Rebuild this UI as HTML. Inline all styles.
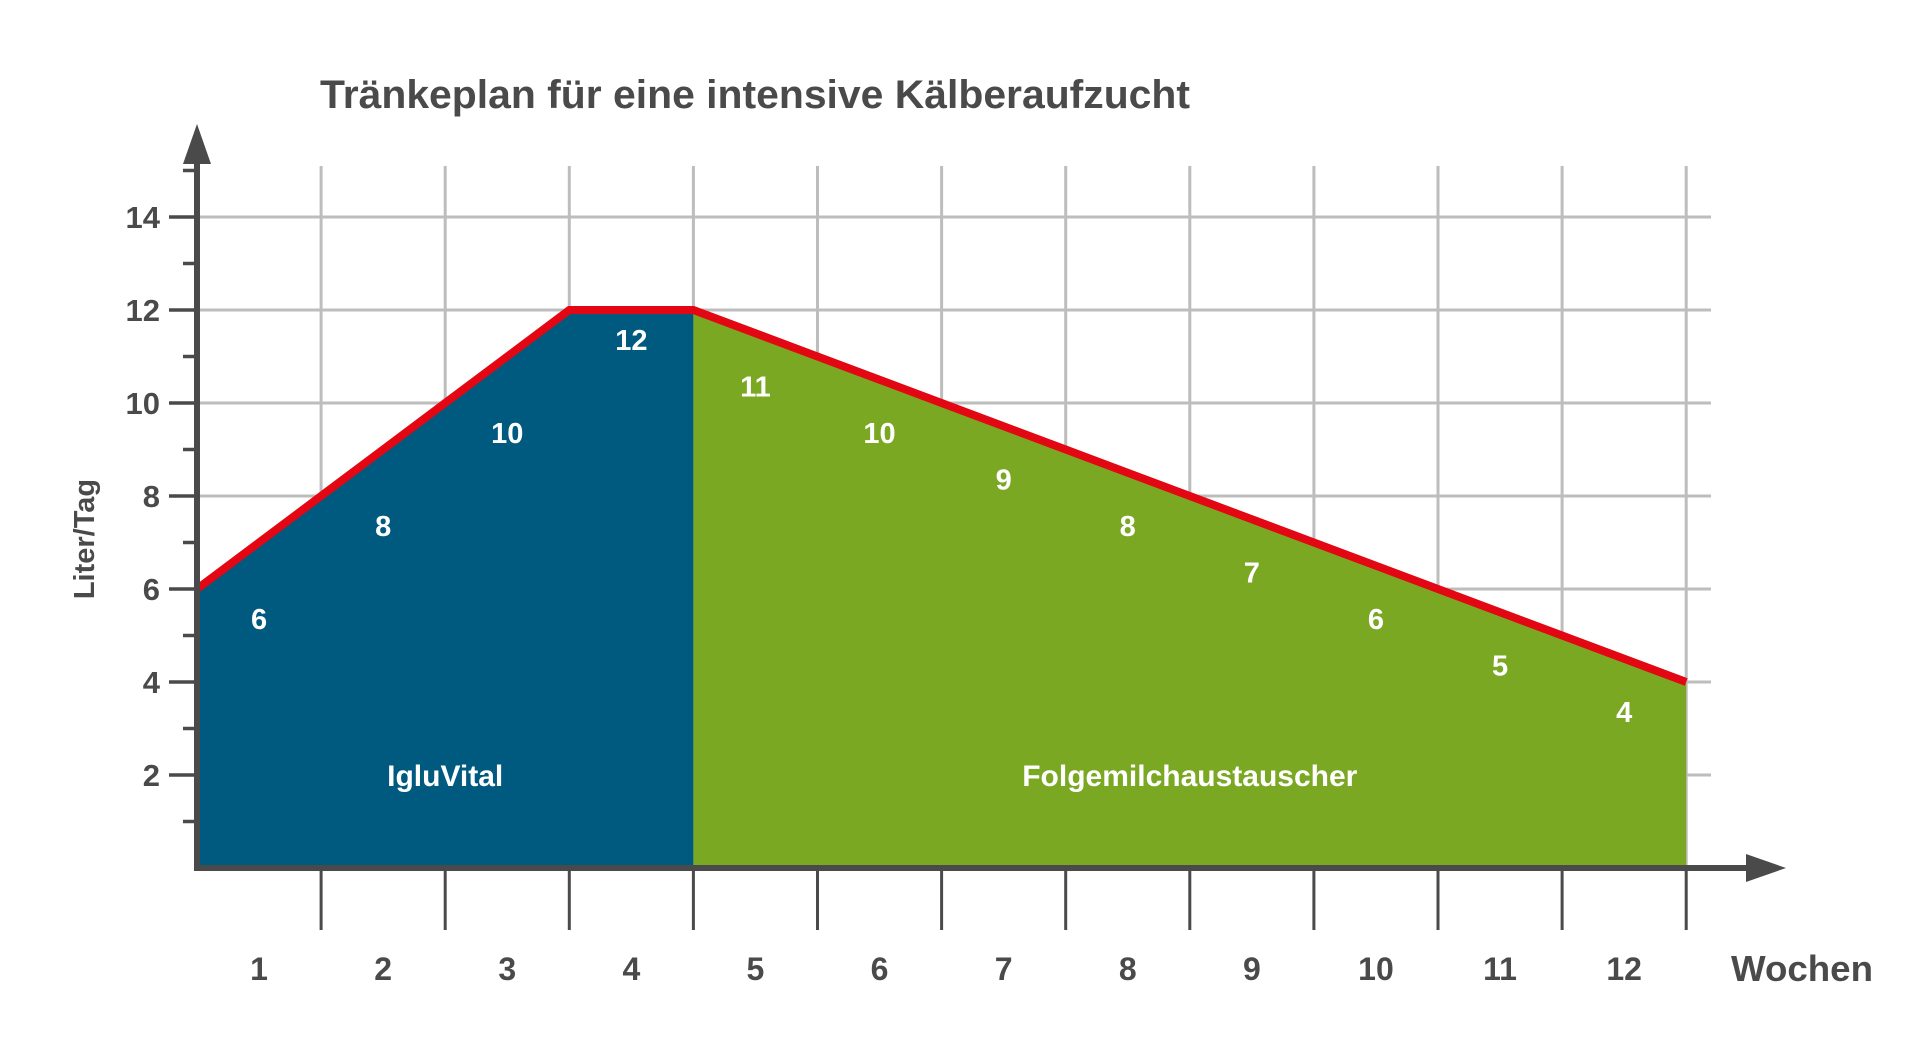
<!DOCTYPE html>
<html><head><meta charset="utf-8"><style>
html,body{margin:0;padding:0;background:#fff;}
svg{display:block;font-family:"Liberation Sans",sans-serif;}
</style></head><body>
<svg id="chart" width="1920" height="1062" viewBox="0 0 1920 1062" xmlns="http://www.w3.org/2000/svg">
<text x="320" y="108" font-size="40" font-weight="bold" fill="#4a4a4a" textLength="870" lengthAdjust="spacingAndGlyphs">Tränkeplan für eine intensive Kälberaufzucht</text>
<text transform="translate(94,539) rotate(-90)" text-anchor="middle" font-size="29" font-weight="bold" fill="#4a4a4a">Liter/Tag</text>
<text x="1873" y="981" text-anchor="end" font-size="36" font-weight="bold" fill="#4a4a4a" textLength="142" lengthAdjust="spacingAndGlyphs">Wochen</text>
<g id="grid"></g><g id="areas"></g><g id="marks"></g><g id="axes"></g><g id="labels"></g>
</svg>
<script>
const weeks = [1,2,3,4,5,6,7,8,9,10,11,12];
const weeklyValues = [6,8,10,12,11,10,9,8,7,6,5,4];
const boundaryValues = [6,8,10,12,12,11,10,9,8,7,6,5,4];
const yTicks = [2,4,6,8,10,12,14];
const phaseNames = ["IgluVital","Folgemilchaustauscher"];
const phaseEnds = [0,4,12];

const NS="http://www.w3.org/2000/svg";
const X0=197, XW=124.1, Y0=868, YU=46.5;
const xs=i=>X0+i*XW, ys=v=>Y0-v*YU;
function mk(tag,attrs,parent,txt){const e=document.createElementNS(NS,tag);for(const k in attrs)e.setAttribute(k,attrs[k]);if(txt!==undefined)e.textContent=txt;document.getElementById(parent).appendChild(e);return e;}

// grid
for(let i=1;i<=weeks.length;i++){
  const g=mk('line',{x1:xs(i),x2:xs(i),y1:166,y2:Y0,stroke:'#bdbdbd','stroke-width':3},'grid');
  
  
}
yTicks.forEach(v=>{
  const g=mk('line',{x1:X0,x2:1711,y1:ys(v),y2:ys(v),stroke:'#bdbdbd','stroke-width':3},'grid');
  
  
});
// areas
const colors=['#005a80','#7aa822'];
for(let p=0;p<2;p++){
  let pts=[];
  for(let i=phaseEnds[p];i<=phaseEnds[p+1];i++) pts.push(xs(i)+','+ys(boundaryValues[i]));
  pts.push(xs(phaseEnds[p+1])+','+Y0); pts.push(xs(phaseEnds[p])+','+Y0);
  const a=mk('polygon',{points:pts.join(' '),fill:colors[p]},'areas');
  
  
  const t=mk('text',{x:(xs(phaseEnds[p])+xs(phaseEnds[p+1]))/2,y:ys(2)+11,'text-anchor':'middle','font-size':30,'font-weight':'bold',fill:'#fff'},'labels',phaseNames[p]);
  
  
}
// line
const lp=boundaryValues.map((v,i)=>xs(i)+','+ys(v)).join(' ');
const ln=mk('polyline',{points:lp,fill:'none',stroke:'#e30613','stroke-width':8,'stroke-linejoin':'miter'},'marks');


// value labels
weeklyValues.forEach((v,i)=>{
  const t=mk('text',{x:xs(i+0.5),y:ys(v)+40,'text-anchor':'middle','font-size':29,'font-weight':'bold',fill:'#fff'},'labels',String(v));
  
  
});
// axes
const ya=mk('line',{x1:X0,x2:X0,y1:160,y2:Y0+3,stroke:'#4a4a4a','stroke-width':6},'axes');


const yar=mk('polygon',{points:'197,124 211,164 183,164',fill:'#4a4a4a'},'axes');


const xa=mk('line',{x1:X0-3,x2:1760,y1:Y0,y2:Y0,stroke:'#4a4a4a','stroke-width':6},'axes');


const xar=mk('polygon',{points:'1786,868 1746,854 1746,882',fill:'#4a4a4a'},'axes');


for(let v=1;v<=15;v++){
  const major=yTicks.includes(v);
  const t=mk('line',{x1:major?169:183,x2:X0,y1:ys(v),y2:ys(v),stroke:'#4a4a4a','stroke-width':3.5},'axes');
  
  
}
yTicks.forEach(v=>{
  const t=mk('text',{x:160,y:ys(v)+11,'text-anchor':'end','font-size':31,'font-weight':'bold',fill:'#4a4a4a'},'labels',String(v));
  
  
});
for(let i=1;i<=weeks.length;i++){
  const t=mk('line',{x1:xs(i),x2:xs(i),y1:Y0,y2:930,stroke:'#4a4a4a','stroke-width':3},'axes');
  
  
}
weeks.forEach((w,i)=>{
  const t=mk('text',{x:xs(i+0.5),y:980,'text-anchor':'middle','font-size':32,'font-weight':'bold',fill:'#4a4a4a'},'labels',String(w));
  
  
});
</script>
</body></html>
